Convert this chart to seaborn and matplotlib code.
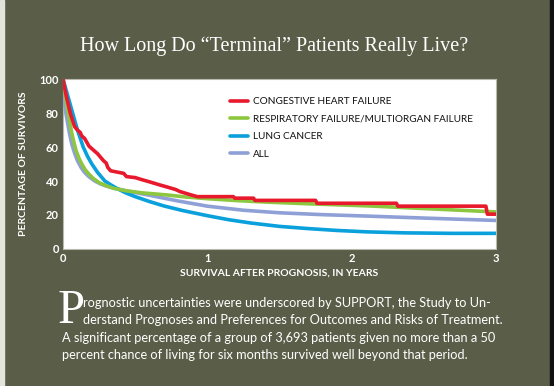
import numpy as np
import pandas as pd
import matplotlib
matplotlib.use('Agg')
import matplotlib.pyplot as plt
import seaborn as sns

# survival curves (years, % surviving)
chf_years = [0, 0.02, 0.05, 0.08, 0.10, 0.12, 0.13, 0.15, 0.17, 0.18, 0.20, 0.22, 0.24, 0.26, 0.28,
             0.30, 0.31, 0.33, 0.36, 0.42, 0.44, 0.50, 0.55, 0.60, 0.67, 0.72, 0.78, 0.81, 0.88, 0.93,
             1.18, 1.19, 1.32, 1.33, 1.75, 1.76, 2.31, 2.32, 2.93, 2.94, 3.0]
chf_pct = [100, 91, 80, 72, 70, 68.5, 66.5, 65, 62, 60.5, 59, 57.5, 56, 54, 52,
           50.5, 48, 46, 45.5, 44.5, 42.6, 42, 40.7, 39.5, 37.7, 36.5, 35, 33.8, 32, 30.8,
           30.8, 29.9, 29.9, 28.6, 28.6, 26.9, 26.9, 25.2, 25.2, 20.5, 20.5]

resp_years = [0, 0.01, 0.02, 0.03, 0.04, 0.05, 0.06, 0.075, 0.09, 0.11, 0.13, 0.155, 0.18, 0.21,
              0.25, 0.30, 0.35, 0.44, 0.55, 0.72, 0.85, 1.0, 1.2, 1.41, 1.7, 2.13, 2.5, 3.0]
resp_pct = [100, 94, 88, 83, 78, 73, 68.5, 63, 58, 53.5, 50, 46.5, 44, 41.5,
            39, 37.2, 35.7, 34.2, 33, 31.8, 30.6, 29.6, 28.5, 27.6, 26.6, 25.3, 23.8, 21.8]

lung_years = [0, 0.02, 0.04, 0.07, 0.10, 0.14, 0.17, 0.20, 0.24, 0.29, 0.33, 0.37, 0.43, 0.50, 0.60,
              0.70, 0.83, 1.0, 1.15, 1.3, 1.5, 1.7, 1.9, 2.1, 2.36, 2.7, 3.0]
lung_pct = [100, 94, 88, 79, 70, 60, 54.5, 50, 45, 40, 37.8, 35.8, 33.2, 30.8, 27.9,
            25.3, 22.6, 19.6, 17.2, 15.3, 13.3, 12, 10.9, 10.1, 9.5, 9.2, 9.2]

all_years = [0, 0.005, 0.01, 0.02, 0.03, 0.045, 0.06, 0.08, 0.10, 0.125, 0.15, 0.18, 0.22, 0.26,
             0.30, 0.37, 0.45, 0.6, 0.8, 1.0, 1.25, 1.5, 1.8, 2.13, 2.5, 3.0]
all_pct = [100, 93, 87, 80, 75, 68, 62, 56.5, 52, 48, 45, 42.5, 40, 38.3,
           37, 35.5, 34, 31.6, 28.2, 25.2, 22.8, 21.3, 20.2, 19.3, 18.2, 16.8]

labels = ['CONGESTIVE HEART FAILURE', 'RESPIRATORY FAILURE/MULTIORGAN FAILURE', 'LUNG CANCER', 'ALL']
colors = ['#e8192c', '#8dc63f', '#0aa0dc', '#8ea0d6']

title = u'How Long Do \u201cTerminal\u201d Patients Really Live?'
body = ['rognostic uncertainties were underscored by SUPPORT, the Study to Un-',
        'derstand Prognoses and Preferences for Outcomes and Risks of Treatment.',
        'A significant percentage of a group of 3,693 patients given no more than a 50',
        'percent chance of living for six months survived well beyond that period.']

bg = '#5a5e48'
sns.set_theme(style='white')
plt.rcParams['font.family'] = ['Lato', 'DejaVu Sans']

fig = plt.figure(figsize=(5.54, 3.86), dpi=100, facecolor=bg)
fig.patches.append(plt.Rectangle((0, 0), 4 / 554, 1, transform=fig.transFigure, color='#e4e4dc', zorder=0))
fig.patches.append(plt.Rectangle((550 / 554, 0), 4 / 554, 1, transform=fig.transFigure, color='#111111', zorder=0))

ax = fig.add_axes([63 / 554, 1 - 249 / 386, 433 / 554, 170 / 386])
ax.set_facecolor('white')

frames = []
for name, xs, ys in [(labels[0], chf_years, chf_pct), (labels[1], resp_years, resp_pct),
                     (labels[2], lung_years, lung_pct), (labels[3], all_years, all_pct)]:
    frames.append(pd.DataFrame({'years': xs, 'pct': ys, 'group': name}))
df = pd.concat(frames)

zo = {labels[0]: 6, labels[1]: 5, labels[2]: 4, labels[3]: 3}
for i, name in enumerate(labels):
    d = df[df['group'] == name]
    sns.lineplot(x=d['years'], y=d['pct'], color=colors[i], lw=2.6, ax=ax, label=name,
                 zorder=zo[name], sort=False)

leg = ax.legend(loc='upper left', bbox_to_anchor=(0.365, 0.945), frameon=False, fontsize=7.2,
                handlelength=1.8, handletextpad=0.45, labelspacing=0.85)
for t in leg.get_texts():
    t.set_color('#111111')

ax.set_xlim(0, 3)
ax.set_ylim(0, 100)
ax.set_xticks([0, 1, 2, 3])
ax.set_yticks([0, 20, 40, 60, 80, 100])
ax.tick_params(colors='white', labelsize=8, length=0, pad=3)
for t in ax.get_xticklabels() + ax.get_yticklabels():
    t.set_fontweight('bold')
for s in ax.spines.values():
    s.set_color('#b8b8ae')
    s.set_linewidth(0.8)

ax.set_xlabel('SURVIVAL AFTER PROGNOSIS, IN YEARS', color='white', fontsize=7.5, fontweight='bold', labelpad=3)
ax.set_ylabel('PERCENTAGE OF SURVIVORS', color='white', fontsize=7.5, fontweight='bold', labelpad=8)

fig.text(274 / 554, 1 - 46 / 386, title, color='white', fontsize=14.5, family='Liberation Serif',
         ha='center', va='center')

# drop cap
fig.text(58 / 554, 1 - 323 / 386, 'P', color='white', fontsize=35, family='Liberation Serif',
         ha='left', va='baseline')
line_y = [303, 320, 338, 355]
line_x = [83, 83, 62, 62]
for s, x, y in zip(body, line_x, line_y):
    fig.text(x / 554, 1 - y / 386, s, color='white', fontsize=9.2, ha='left', va='center')

fig.savefig('out.png', dpi=100, facecolor=bg)
